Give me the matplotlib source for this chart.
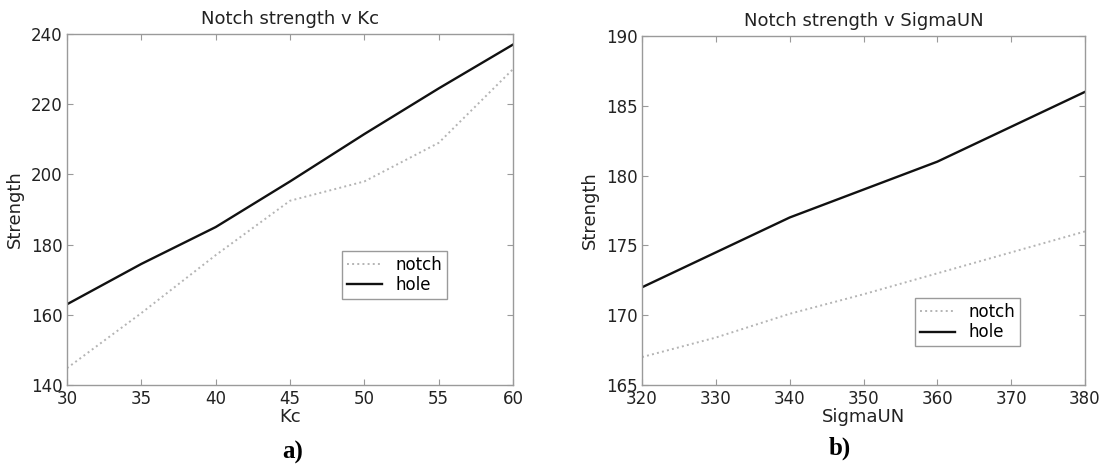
import matplotlib
matplotlib.use('Agg')
import matplotlib.pyplot as plt

# --- data ---
kc = [30, 35, 40, 45, 50, 55, 60]
kc_notch = [144.8, 160.5, 177, 192.5, 198, 209, 230]
kc_hole = [163, 174.5, 185, 198, 211.5, 224.5, 237]

sigma = [320, 330, 340, 350, 360, 370, 380]
sigma_notch = [167, 168.4, 170.1, 171.5, 173, 174.5, 176]
sigma_hole = [172, 174.5, 177, 179, 181, 183.5, 186]

kc_ticks = [30, 35, 40, 45, 50, 55, 60]
kc_yticks = [140, 160, 180, 200, 220, 240]
sigma_ticks = [320, 330, 340, 350, 360, 370, 380]
sigma_yticks = [165, 170, 175, 180, 185, 190]

plt.rcParams['font.family'] = 'DejaVu Sans'
SPINE = '#9a9a9a'
TXT = '#222222'


def style_axes(ax):
    for s in ax.spines.values():
        s.set_color(SPINE)
        s.set_linewidth(1.0)
    ax.tick_params(direction='in', length=4, width=0.8, color=SPINE,
                   top=True, right=True, labelsize=12, labelcolor=TXT)
    ax.tick_params(axis='x', pad=3.5)
    ax.tick_params(axis='y', pad=3)


def panel(ax, x, notch, hole, xt, yt, title, xlabel, leg_xy):
    ax.plot(x, notch, color='#b4b4b4', linestyle=':', linewidth=1.4, label='notch')
    ax.plot(x, hole, color='#111111', linewidth=1.7, label='hole')
    ax.set_xlim(xt[0], xt[-1])
    ax.set_ylim(yt[0], yt[-1])
    ax.set_xticks(xt)
    ax.set_yticks(yt)
    style_axes(ax)
    ax.set_title(title, fontsize=13, color=TXT, pad=7)
    ax.set_xlabel(xlabel, fontsize=13, color=TXT, labelpad=0)
    ax.set_ylabel('Strength', fontsize=13, color=TXT, labelpad=5)
    leg = ax.legend(loc='center', bbox_to_anchor=leg_xy, fontsize=12,
                    fancybox=False, framealpha=1, edgecolor=SPINE,
                    handlelength=2.1, borderpad=0.3, labelspacing=0.15,
                    handletextpad=0.8)
    leg.get_frame().set_linewidth(1.0)


fig = plt.figure(figsize=(11.06, 4.69), dpi=100)
ax1 = fig.add_axes([0.0606, 0.1791, 0.4033, 0.7484])
ax2 = fig.add_axes([0.5805, 0.1791, 0.4005, 0.7441])

panel(ax1, kc, kc_notch, kc_hole, kc_ticks, kc_yticks,
      'Notch strength v Kc', 'Kc', (0.734, 0.3135))
panel(ax2, sigma, sigma_notch, sigma_hole, sigma_ticks, sigma_yticks,
      'Notch strength v SigmaUN', 'SigmaUN', (0.7345, 0.18))

# panel labels under each chart
fig.text(293 / 1106, 1 - 452 / 469, 'a)', family='Liberation Serif',
         fontweight='bold', fontsize=18, ha='center', va='center')
fig.text(840 / 1106, 1 - 448 / 469, 'b)', family='Liberation Serif',
         fontweight='bold', fontsize=18, ha='center', va='center')

fig.savefig('out.png', dpi=100)
